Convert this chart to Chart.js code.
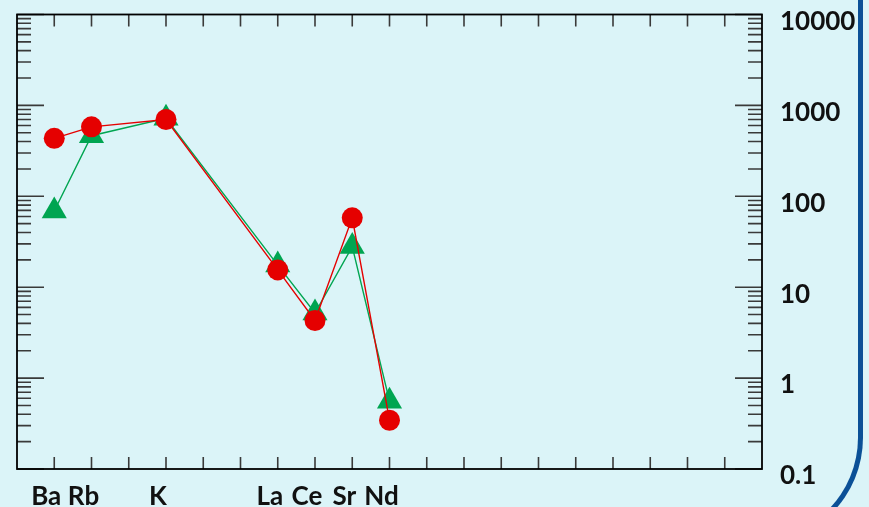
<!DOCTYPE html>
<html>
<head>
<meta charset="utf-8">
<script src="https://cdn.jsdelivr.net/npm/chart.js@4.4.1/dist/chart.umd.min.js"></script>
<style>
  html, body { margin: 0; padding: 0; background: #dbf4f8; overflow: hidden; }
  #wrap { position: relative; width: 869px; height: 507px; }
  #frame {
    position: absolute; left: -20px; top: -20px;
    width: 882.5px; height: 564.5px; box-sizing: border-box;
    border-right: 5px solid #0b5097; border-bottom: 5px solid #0b5097;
    border-bottom-right-radius: 107.5px;
  }
  canvas { position: absolute; left: 0; top: 0; }
</style>
</head>
<body>
<div id="wrap">
  <div id="frame"></div>
  <canvas id="spider" width="869" height="507"></canvas>
</div>
<script>
// elements shown on the x axis and their slot in the element order
let elements = ['Ba', 'Rb', 'K', 'La', 'Ce', 'Sr', 'Nd'];
let elementSlot = [1, 2, 4, 7, 8, 9, 10];
let slotCount = 20;

// normalised concentrations
let redValues = [434, 581, 700, 15.5, 4.3, 58, 0.344];
let greenValues = [69, 464, 720, 17.5, 5.2, 28, 0.557];

let yTicks = [0.1, 1, 10, 100, 1000, 10000];

function toPoints(vals) {
    return vals.map((v, i) => ({ x: elementSlot[i], y: v }));
}

// frame and inward tick marks, drawn from the chart's own scales
const frameTicks = {
    id: 'frameTicks',
    beforeDatasetsDraw(chart) {
        const ctx = chart.ctx;
        const a = chart.chartArea;
        const xs = chart.scales.x;
        const ys = chart.scales.y;
        ctx.save();
        ctx.strokeStyle = '#3a3a3a';
        ctx.lineWidth = 1.6;
        // x ticks top and bottom
        for (let k = 1; k < slotCount; k++) {
            const px = xs.getPixelForValue(k);
            ctx.beginPath();
            ctx.moveTo(px, a.top); ctx.lineTo(px, a.top + 12);
            ctx.moveTo(px, a.bottom); ctx.lineTo(px, a.bottom - 12);
            ctx.stroke();
        }
        // log ticks left and right
        for (let e = -1; e <= 4; e++) {
            for (let m = 1; m <= 9; m++) {
                const v = m * Math.pow(10, e);
                if (v > 10000.0001) break;
                const py = ys.getPixelForValue(v);
                const len = m === 1 ? 27 : 14;
                ctx.beginPath();
                ctx.moveTo(a.left, py); ctx.lineTo(a.left + len, py);
                ctx.moveTo(a.right, py); ctx.lineTo(a.right - len, py);
                ctx.stroke();
            }
        }
        ctx.strokeStyle = '#000';
        ctx.lineWidth = 1.8;
        ctx.strokeRect(a.left, a.top, a.right - a.left, a.bottom - a.top);
        ctx.restore();
    }
};

function noPad(s) {
    s.paddingTop = 0; s.paddingBottom = 0;
    s.paddingLeft = 0; s.paddingRight = 0;
}

document.addEventListener('DOMContentLoaded', () => {
    Chart.defaults.font.family = 'Lato';
    Chart.defaults.font.size = 26;
    Chart.defaults.font.weight = 'bold';
    Chart.defaults.color = '#111';

    let ctx = document.getElementById('spider').getContext('2d');
    new Chart(ctx, {
        type: 'line',
        data: {
            datasets: [{
                label: 'red',
                data: toPoints(redValues),
                borderColor: '#e50000',
                backgroundColor: '#e50000',
                borderWidth: 1.4,
                pointStyle: 'circle',
                pointRadius: 10.5,
                pointBorderWidth: 0,
                tension: 0
            }, {
                label: 'green',
                data: toPoints(greenValues),
                borderColor: '#00a551',
                backgroundColor: '#00a551',
                borderWidth: 1.4,
                pointStyle: 'triangle',
                pointRadius: 14.5,
                pointBorderWidth: 0,
                tension: 0
            }]
        },
        options: {
            responsive: false,
            animation: false,
            clip: false,
            layout: { padding: { left: 17, top: 13, right: 0, bottom: 0 } },
            plugins: { legend: { display: false }, tooltip: { enabled: false } },
            scales: {
                x: {
                    type: 'linear',
                    min: 0,
                    max: slotCount,
                    grid: { display: false },
                    border: { display: false },
                    afterBuildTicks: s => { s.ticks = elementSlot.map(v => ({ value: v })); },
                    afterFit: s => { s.height = 38; noPad(s); },
                    ticks: {
                        autoSkip: false,
                        maxRotation: 0,
                        padding: 4,
                        labelOffset: -8,
                        callback: v => {
                            const i = elementSlot.indexOf(v);
                            return i >= 0 ? elements[i] : '';
                        }
                    }
                },
                y: {
                    type: 'logarithmic',
                    position: 'right',
                    min: 0.1,
                    max: 10000,
                    grid: { display: false },
                    border: { display: false },
                    afterBuildTicks: s => { s.ticks = yTicks.map(v => ({ value: v })); },
                    afterFit: s => { s.width = 107; noPad(s); },
                    ticks: {
                        padding: 10,
                        labelOffset: 7,
                        callback: v => String(v)
                    }
                }
            }
        },
        plugins: [frameTicks]
    });
});
</script>
</body>
</html>
